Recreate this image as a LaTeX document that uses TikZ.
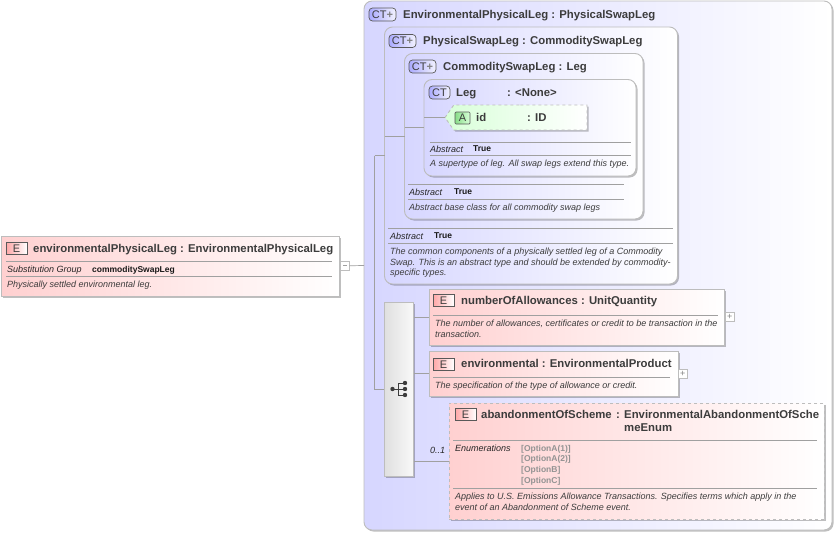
\documentclass[tikz,border=0pt]{standalone}
\usepackage{fontspec}
\setmainfont{Liberation Sans}
\usepackage{xcolor}
\usetikzlibrary{positioning,shadows,shapes}

\definecolor{elempink}{HTML}{FFD0D0}
\definecolor{ctblue}{HTML}{D6D6FF}
\definecolor{attrgreen}{HTML}{D8FFD8}
\definecolor{linegray}{HTML}{A0A0A0}
\definecolor{edgegray}{HTML}{BDBDBD}
\definecolor{inkgray}{HTML}{3C3C3C}

\begin{document}
\begin{tikzpicture}[x=1pt,y=-1pt,
    shadowed/.style={drop shadow={shadow xshift=1.5pt,shadow yshift=-1.5pt,opacity=.25,fill=black}},
    box/.style={draw=edgegray,line width=.9pt,anchor=north west,inner sep=0pt,outer sep=0pt,shadowed},
    elembox/.style={box,left color=elempink,right color=white},
    dashbox/.style={elembox,dashed},
    ctbox/.style={box,rounded corners=8pt,left color=ctblue,right color=white},
    seqbox/.style={box,left color=gray!25,right color=gray!5},
    badge/.style={draw=black!65,line width=.7pt,anchor=north west,inner sep=0pt,outer sep=0pt,text=inkgray,font=\fontsize{11}{11}\selectfont},
    ebadge/.style={badge,left color=elempink!80!red,right color=white,minimum width=21pt,minimum height=12.5pt},
    ctbadge/.style={badge,rounded corners=3.5pt,left color=ctblue!80!blue,right color=ctblue!30,minimum height=13pt},
    title/.style={anchor=base west,inner sep=0pt,text=inkgray,font=\fontsize{11.35}{14}\bfseries\selectfont},
    key/.style={anchor=base west,inner sep=0pt,text=black!85,font=\fontsize{9}{11}\itshape\selectfont},
    val/.style={anchor=base west,inner sep=0pt,text=black!90,font=\fontsize{8.5}{10}\bfseries\selectfont},
    doc/.style={key,text=inkgray},
    opt/.style={val,text=gray!85},
    sep/.style={draw=linegray,line width=.7pt},
    conn/.style={draw=linegray,line width=.7pt},
    toggle/.style={draw=edgegray,fill=white,line width=.6pt,anchor=north west,inner sep=0pt,outer sep=0pt,minimum size=9.5pt,text=gray,font=\fontsize{9}{9}\selectfont}]
  \useasboundingbox (0,0) rectangle (836,533);

  % root element
  \node[elembox,minimum width=338pt,minimum height=60pt] (root) at (1.5,236) {};
  \node[ebadge] (rootbadge) at (6,242) {E};
  \node[title] (roottitle) at (33,252) {environmentalPhysicalLeg : EnvironmentalPhysicalLeg};
  \draw[sep] (6,261) -- (332,261);
  \node[key] (rootkey) at (7,272.5) {Substitution Group};
  \node[val] (rootval) at (92,272) {commoditySwapLeg};
  \draw[sep] (6,276) -- (332,276);
  \node[doc] (rootdoc) at (7,287.5) {Physically settled environmental leg.};
  \node[toggle] (roottoggle) at (340,261) {};
  \draw[sep] ([xshift=2pt]roottoggle.center) -- ([xshift=-2pt]roottoggle.center);

  % extension boxes
  \node[ctbox,minimum width=468pt,minimum height=529pt] (envleg) at (364,1) {};
  \node[ctbadge,minimum width=27pt] (envbadge) at (369,8) {CT\textcolor{gray}{\textbf{+}}};
  \node[title] (envtitle) at (403,18) {EnvironmentalPhysicalLeg : PhysicalSwapLeg};

  \node[ctbox,minimum width=293pt,minimum height=257pt] (physleg) at (384.5,27) {};
  \node[ctbadge,minimum width=27pt] (physbadge) at (389,34.5) {CT\textcolor{gray}{\textbf{+}}};
  \node[title] (phystitle) at (423,44) {PhysicalSwapLeg : CommoditySwapLeg};

  \node[ctbox,minimum width=238.5pt,minimum height=165.5pt] (commleg) at (404.5,53.5) {};
  \node[ctbadge,minimum width=27pt] (commbadge) at (409,60) {CT\textcolor{gray}{\textbf{+}}};
  \node[title] (commtitle) at (443,70) {CommoditySwapLeg : Leg};

  \node[ctbox,minimum width=212pt,minimum height=96.5pt] (leg) at (424,79.5) {};
  \node[ctbadge,minimum width=21pt] (legbadge) at (429,86) {CT};
  \node[title] (legtitle) at (456,96) {Leg};
  \node[title] (legtype) at (507,96) {: <None>};

  % attribute
  \node[draw=edgegray,dashed,line width=.9pt,signal,signal to=west,signal pointer angle=110,left color=attrgreen,right color=white,
    minimum width=142pt,minimum height=25pt,inner sep=0pt,outer sep=0pt,shadowed,anchor=west] (id) at (445,117.5) {};
  \node[badge,rounded corners=1pt,left color=green!55!gray!60,right color=attrgreen,minimum width=15pt,minimum height=12pt] (idbadge) at (455,112) {A};
  \node[title] (idtitle) at (476,121) {id};
  \node[title] (idtype) at (527,121) {: ID};

  \draw[sep] (430,142) -- (631,142);
  \node[key] (legkey) at (430,152.5) {Abstract};
  \node[val] (legval) at (473,151) {True};
  \draw[sep] (430,155) -- (631,155);
  \node[doc] (legdoc) at (430,166.5) {A supertype of leg. All swap legs extend this type.};

  \draw[sep] (408,184) -- (624,184);
  \node[key] (commkey) at (409,195.5) {Abstract};
  \node[val] (commval) at (454,194) {True};
  \draw[sep] (408,199) -- (624,199);
  \node[doc] (commdoc) at (409,210.5) {Abstract base class for all commodity swap legs};

  \draw[sep] (388,228) -- (673,228);
  \node[key] (physkey) at (390,239.5) {Abstract};
  \node[val] (physval) at (434,238) {True};
  \draw[sep] (388,243) -- (673,243);
  \node[doc] (physdoca) at (390,254.5) {The common components of a physically settled leg of a Commodity};
  \node[doc] (physdocb) at (390,265) {Swap. This is an abstract type and should be extended by commodity-};
  \node[doc] (physdocc) at (390,275.5) {specific types.};

  % sequence
  \node[seqbox,minimum width=29.5pt,minimum height=174pt] (seq) at (384,302) {};
  \draw[line width=.9pt,inkgray] (392,389) -- (398,389) (398,383) -- (398,395) (398,383) -- (405,383) (398,389) -- (405,389) (398,395) -- (405,395);
  \fill[inkgray] (392.5,389) circle (2.2pt) (405,383) circle (2.2pt) (405,389) circle (2.2pt) (405,395) circle (2.2pt);

  % child elements
  \node[elembox,minimum width=295.5pt,minimum height=56pt] (allow) at (429,289) {};
  \node[ebadge] (allowbadge) at (433,294) {E};
  \node[title] (allowtitle) at (461,304.5) {numberOfAllowances : UnitQuantity};
  \draw[sep] (433,315) -- (718,315);
  \node[doc] (allowdoca) at (435,326.5) {The number of allowances, certificates or credit to be transaction in the};
  \node[doc] (allowdocb) at (435,337) {transaction.};
  \node[toggle] (allowtoggle) at (725,312) {+};

  \node[elembox,minimum width=249pt,minimum height=45pt] (env) at (429,351) {};
  \node[ebadge] (envelbadge) at (433,358) {E};
  \node[title] (enveltitle) at (461,367.5) {environmental : EnvironmentalProduct};
  \draw[sep] (433,377) -- (670,377);
  \node[doc] (enveldoc) at (435,388.5) {The specification of the type of allowance or credit.};
  \node[toggle] (enveltoggle) at (678,369) {+};

  \node[dashbox,minimum width=375pt,minimum height=116pt] (aband) at (449,403) {};
  \node[ebadge] (abandbadge) at (455,408) {E};
  \node[title] (abandtitle) at (481,418.5) {abandonmentOfScheme};
  \node[title] (abandcolon) at (616,418.5) {:};
  \node[title] (abandtypea) at (624,418.5) {EnvironmentalAbandonmentOfSche};
  \node[title] (abandtypeb) at (624,431.5) {meEnum};
  \draw[sep] (453,440) -- (817,440);
  \node[key] (abandkey) at (455,451.5) {Enumerations};
  \node[opt] (opta) at (521,451) {[OptionA(1)]};
  \node[opt] (optb) at (521,461.5) {[OptionA(2)]};
  \node[opt] (optc) at (521,472.5) {[OptionB]};
  \node[opt] (optd) at (521,483) {[OptionC]};
  \draw[sep] (453,488) -- (817,488);
  \node[doc] (abanddoca) at (455,499.5) {Applies to U.S. Emissions Allowance Transactions. Specifies terms which apply in the};
  \node[doc] (abanddocb) at (455,510) {event of an Abandonment of Scheme event.};
  \node[key] (occurs) at (430,453.5) {0..1};

  % connectors
  \coordinate (trunk) at (374.5,266);
  \draw[conn] (roottoggle.east) -- (envleg.west);
  \draw[conn] (trunk |- physleg.west) -- (physleg.west);
  \draw[conn] (trunk |- physleg.west) -- (trunk |- seq.west) -- (seq.west);
  \draw[conn] (physleg.west |- commleg.west) -- (commleg.west);
  \draw[conn] (commleg.west |- leg.west) -- (leg.west);
  \draw[conn] (leg.west |- id.west) -- (id.west);
  \draw[conn] (seq.east |- allow.west) -- (allow.west);
  \draw[conn] (seq.east |- env.west) -- (env.west);
  \draw[conn] (seq.east |- aband.west) -- (aband.west);
\end{tikzpicture}
\end{document}
